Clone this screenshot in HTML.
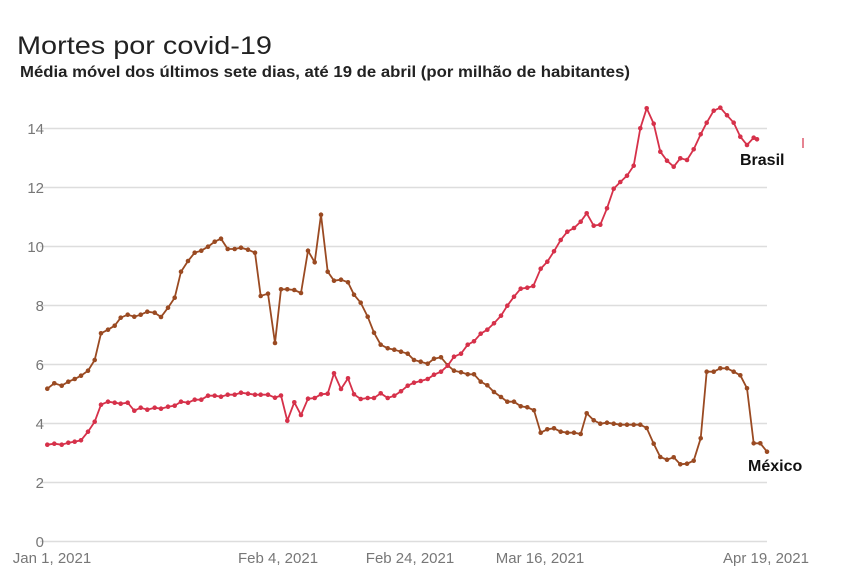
<!DOCTYPE html>
<html><head><meta charset="utf-8"><style>
html,body{margin:0;padding:0;background:#fff;}
svg{display:block;font-family:"Liberation Sans",sans-serif;}
</style></head><body>
<svg width="850" height="584" viewBox="0 0 850 584">
<text x="17" y="54" font-size="25" fill="#222" textLength="255" lengthAdjust="spacingAndGlyphs">Mortes por covid-19</text>
<text x="20" y="77" font-size="16" font-weight="bold" fill="#222" textLength="610" lengthAdjust="spacingAndGlyphs">Média móvel dos últimos sete dias, até 19 de abril (por milhão de habitantes)</text>
<g stroke="#ddd" stroke-width="1.5">
<line x1="40" x2="767" y1="128.5" y2="128.5"/>
<line x1="40" x2="767" y1="187.5" y2="187.5"/>
<line x1="40" x2="767" y1="246.5" y2="246.5"/>
<line x1="40" x2="767" y1="305.5" y2="305.5"/>
<line x1="40" x2="767" y1="364.5" y2="364.5"/>
<line x1="40" x2="767" y1="423.5" y2="423.5"/>
<line x1="40" x2="767" y1="482.5" y2="482.5"/>
<line x1="40" x2="767" y1="541.5" y2="541.5"/>
</g>
<g font-size="15" fill="#777" text-anchor="end">
<text x="44" y="134">14</text><text x="44" y="193">12</text><text x="44" y="252">10</text>
<text x="44" y="311">8</text><text x="44" y="370">6</text><text x="44" y="429">4</text>
<text x="44" y="488">2</text><text x="44" y="547">0</text>
</g>
<g font-size="15" fill="#777" text-anchor="middle">
<text x="52" y="563">Jan 1, 2021</text><text x="278" y="563">Feb 4, 2021</text>
<text x="410" y="563">Feb 24, 2021</text><text x="540" y="563">Mar 16, 2021</text>
<text x="766" y="563">Apr 19, 2021</text>
</g>
<polyline id="mx" fill="none" stroke="#9a4a22" stroke-width="1.8" points="47.3,388.7 54.3,383.3 61.7,385.7 68.3,381.7 74.7,379 81,375.7 88,370.7 94.7,360 101,333.3 108,329.7 114.7,325.7 120.7,317.7 127.7,314.7 134.3,316.7 140.7,314.7 147.3,311.7 154.7,312.7 161,317 168,307.7 174.7,297.7 181,271.7 188,261 194.7,252.7 201.3,250.7 208,246.7 214.7,241.7 221,238.7 227.7,249 234.7,249 241,247.7 248,249.7 255,252.7 260.7,296 268,293.7 275,343 281,289.3 287.3,289.3 294.3,290 301,293 308,250.7 314.7,262.3 321,214.7 327.7,271.7 334,280.7 341,279.7 348,282.3 354,294.7 360.7,302.7 367.7,316.7 374,332.7 380.7,344.7 387.7,348.3 394.3,349.7 401,351.7 407.7,353.7 414,360 420.7,361.7 427.7,363.7 434,358.7 441,357.3 447.7,365.3 454,370.7 461,372.3 467.7,374.3 474,374.3 480.7,381.7 487.3,385.3 494,392 501,397 507.3,401.7 514,401.7 520.7,406.3 527.3,407.3 534,410.3 540.7,432.7 547.3,429.3 554,428.3 560.7,431.7 567.3,432.7 574,432.7 580.7,434 586.7,413.3 593.7,420.3 600.3,423.7 607,422.7 613.7,423.7 620.3,424.7 627,424.7 633.7,424.7 640.3,424.7 646.7,428 653.7,443.7 660.3,457 667,459.7 673.7,457.3 680.3,464.3 687,463.7 693.7,460.7 700.7,438.3 706.7,371.7 713.7,371.7 720.3,368.3 727,368.3 733.7,371.7 740.3,375.3 747,388.3 753.7,443.3 760.3,443.3 767,451.7"/>
<polyline id="br" fill="none" stroke="#d6314a" stroke-width="1.8" points="47.3,444.7 54.3,443.7 61.7,444.7 68.3,442.7 74.7,441.7 81,440.3 88,431.7 94.7,421.7 101,404.7 108,401.7 114.7,402.7 120.7,403.7 127.7,402.7 134.3,410.7 140.7,407.7 147.3,409.7 154.7,407.7 161,408.7 168,406.7 174.7,405.7 181,401.7 188,402.7 194.7,399.7 201.3,399.7 208,395.7 214.7,395.7 221,396.7 227.7,394.7 234.7,394.7 241,392.7 248,393.7 255,394.7 260.7,394.7 268,394.7 275,397.7 281,395.5 287.3,420.7 294.3,402.3 301,415 308,398.7 314.7,398 321,394.3 327.7,393.7 334,373.3 341,389 348,378.3 354,394.3 360.7,399 367.7,398 374,398 380.7,393.3 387.7,398 394.3,395.7 401,391.3 407.7,385.7 414,382.7 420.7,381 427.7,379 434,374.7 441,371.7 447.7,365.7 454,356.7 461,353.7 467.7,344.7 474,341.3 480.7,333.7 487.3,329.7 494,323.3 501,315.7 507.3,305.7 514,296.7 520.7,288.7 527.3,287.7 533.3,286 540.7,268.7 547.3,261.7 554,251.3 560.7,240 567.3,231.7 574,228 580.7,221.7 586.7,213.3 593.7,225.7 600.3,224.7 607,208.3 613.7,188.7 620.3,182 627,175.7 633.7,165.7 640.3,128.3 646.7,108.3 653.7,123.7 660.3,151.7 667,160.7 673.7,166.7 680.3,158.3 687,160 693.7,149.3 700.7,134.3 706.7,122.7 713.7,110.7 720.3,107.7 727,115.3 733.7,122.7 740.3,136.7 747,145 753.7,137.7 757,139.3"/>
<line x1="803" x2="803" y1="138" y2="148" stroke="#d6314a" stroke-width="1.2"/>
<text x="740" y="165" font-size="16" font-weight="bold" fill="#111">Brasil</text>
<text x="748" y="471" font-size="16" font-weight="bold" fill="#111">México</text>
<script>
['mx','br'].forEach(function(id){var p=document.getElementById(id);var c=p.getAttribute('stroke');var pts=p.getAttribute('points').trim().split(/\s+/);var ns='http://www.w3.org/2000/svg';pts.forEach(function(s){var a=s.split(',');var e=document.createElementNS(ns,'circle');e.setAttribute('cx',a[0]);e.setAttribute('cy',a[1]);e.setAttribute('r','2.3');e.setAttribute('fill',c);p.parentNode.insertBefore(e,p.nextSibling);});});
</script>
</svg>
</body></html>
